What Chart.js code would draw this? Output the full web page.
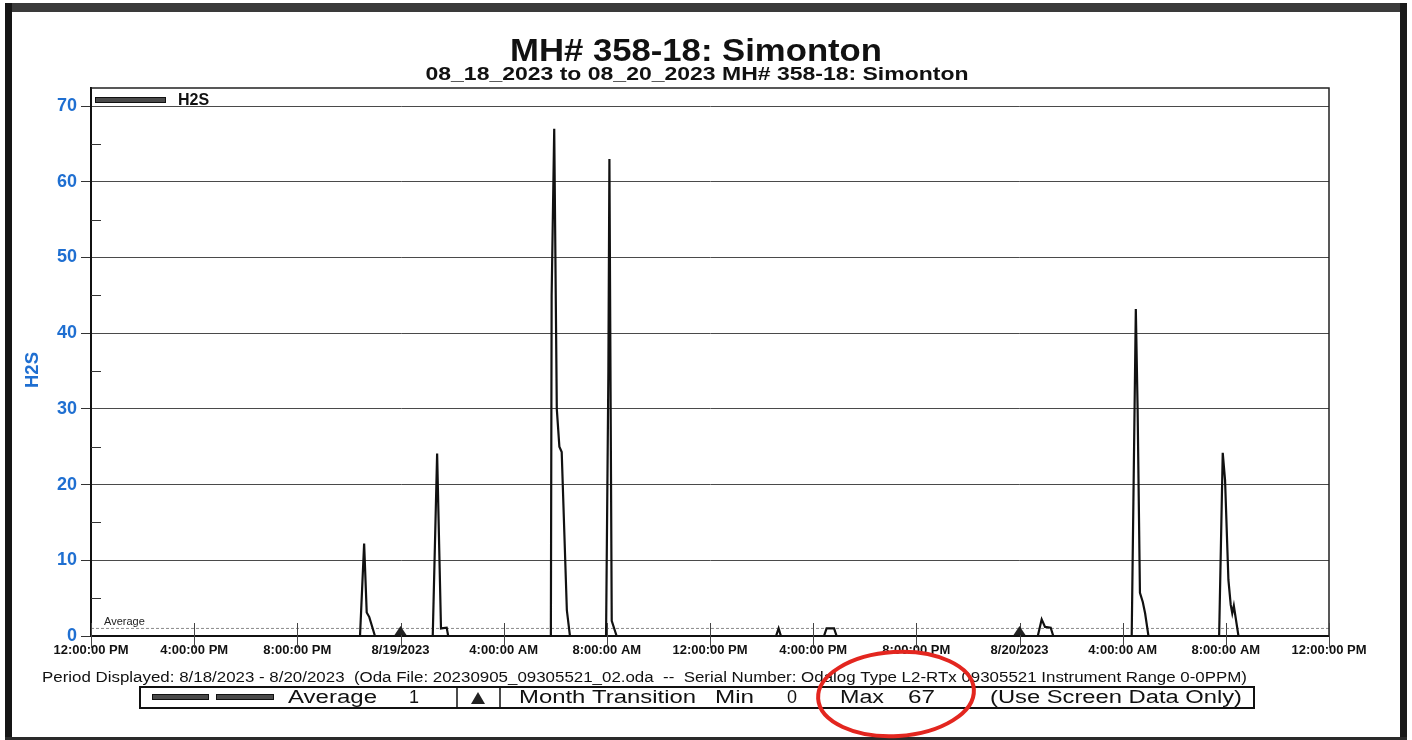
<!DOCTYPE html>
<html><head><meta charset="utf-8">
<script src="https://cdn.jsdelivr.net/npm/chart.js@4.4.1/dist/chart.umd.min.js"></script>
<style>html,body{margin:0;padding:0;background:#fff;overflow:hidden}canvas{display:block}</style>
</head><body>
<canvas id="c" width="1412" height="740"></canvas>
<script>
// ---------- data ----------
const TITLE = 'MH# 358-18: Simonton';
const SUBTITLE = '08_18_2023 to 08_20_2023 MH# 358-18: Simonton';
const SERIES_NAME = 'H2S';
const Y_TITLE = 'H2S';
// hours since 12:00 PM 8/18/2023
const TIME_HOURS = [0,
  10.43,10.59,10.69,10.79,11.01,
  13.25,13.42,13.57,13.79,13.85,
  17.83,17.86,17.96,18.06,18.16,18.25,18.45,18.57,
  19.97,20.06,20.10,20.19,20.38,
  26.56,26.66,26.75,
  28.42,28.52,28.81,28.91,
  36.71,36.86,36.99,37.21,37.31,
  40.35,40.51,40.58,40.67,40.78,40.87,41.00,
  43.74,43.88,43.97,44.10,44.19,44.25,44.31,44.49,
  48];
const H2S_PPM = [0,
  0,12.2,3.1,2.5,0,
  0,24.1,1.0,1.1,0,
  0,45,67,30,25,24.3,3.4,0,
  0,35,63,2,0,
  0,1.0,0,
  0,1.0,1.0,0,
  0,2.2,1.2,1.1,0,
  0,43.2,29.9,5.7,4.5,3.0,0,
  0,24.2,20.6,7.4,4.1,3.0,4.0,0,
  0];
const X_TICK_HOURS = [0,4,8,12,16,20,24,28,32,36,40,44,48];
const X_TICK_LABELS = ['12:00:00 PM','4:00:00 PM','8:00:00 PM','8/19/2023','4:00:00 AM','8:00:00 AM',
  '12:00:00 PM','4:00:00 PM','8:00:00 PM','8/20/2023','4:00:00 AM','8:00:00 AM','12:00:00 PM'];
const Y_TICKS = [0,5,10,15,20,25,30,35,40,45,50,55,60,65,70];
const MONTH_TRANSITIONS = [12, 36];
const AVERAGE = 1;
const MIN_VALUE = 0;
const MAX_VALUE = 67;
const FOOTER = 'Period Displayed: 8/18/2023 - 8/20/2023  (Oda File: 20230905_09305521_02.oda  --  Serial Number: Odalog Type L2-RTx 09305521 Instrument Range 0-0PPM)';

// ---------- drawing ----------
const FONT = "'Liberation Sans', Arial, Helvetica, sans-serif";
const BLUE = '#1f6fd1';

function fitText(ctx, text, x, y, font, width, align) {
  ctx.save();
  ctx.font = font;
  const w = ctx.measureText(text).width;
  const sx = width ? width / w : 1;
  ctx.translate(x, y);
  ctx.scale(sx, 1);
  ctx.textAlign = align || 'left';
  ctx.textBaseline = 'middle';
  ctx.fillText(text, 0, 0);
  ctx.restore();
}

const decor = {
  id: 'decor',
  beforeDraw(chart) {
    const ctx = chart.ctx;
    ctx.save();
    ctx.fillStyle = '#fff';
    ctx.fillRect(0, 0, chart.width, chart.height);
    // scanned page frame
    ctx.fillStyle = '#3a3a3a'; ctx.fillRect(5, 3, 1402, 9);
    ctx.fillStyle = '#151515'; ctx.fillRect(5, 3, 7, 737);
    ctx.fillStyle = '#1a1a1a'; ctx.fillRect(1400, 3, 7, 737);
    ctx.fillStyle = '#2a2a2a'; ctx.fillRect(5, 737, 1402, 3);
    ctx.restore();
  },
  afterDraw(chart) {
    const ctx = chart.ctx;
    const xs = chart.scales.x, ys = chart.scales.y;
    const a = chart.chartArea;
    ctx.save();
    // plot frame (top + right)
    ctx.strokeStyle = '#222'; ctx.lineWidth = 1.5;
    ctx.beginPath();
    ctx.moveTo(a.left, a.top); ctx.lineTo(a.right, a.top); ctx.lineTo(a.right, a.bottom);
    ctx.stroke();
    // minor y ticks inside
    ctx.strokeStyle = '#333'; ctx.lineWidth = 1;
    Y_TICKS.forEach(v => {
      if (v % 10 !== 0) {
        const y = Math.round(ys.getPixelForValue(v)) + 0.5;
        ctx.beginPath(); ctx.moveTo(a.left, y); ctx.lineTo(a.left + 10, y); ctx.stroke();
      }
    });
    // x tick marks
    ctx.strokeStyle = '#444';
    X_TICK_HOURS.forEach(h => {
      const x = Math.round(xs.getPixelForValue(h)) + 0.5;
      ctx.beginPath(); ctx.moveTo(x, a.bottom - 13); ctx.lineTo(x, a.bottom + 12); ctx.stroke();
    });
    // month transition markers
    ctx.fillStyle = '#222';
    MONTH_TRANSITIONS.forEach(h => {
      const x = xs.getPixelForValue(h), y = ys.getPixelForValue(0) - 1;
      ctx.beginPath(); ctx.moveTo(x - 6, y); ctx.lineTo(x + 6, y); ctx.lineTo(x, y - 9); ctx.closePath(); ctx.fill();
    });
    // average label
    ctx.fillStyle = '#222';
    ctx.font = '11px ' + FONT; ctx.textAlign = 'left'; ctx.textBaseline = 'alphabetic';
    ctx.fillText('Average', a.left + 13, ys.getPixelForValue(AVERAGE) - 3);
    // top legend
    ctx.fillStyle = '#4a4a4a'; ctx.strokeStyle = '#111'; ctx.lineWidth = 1;
    ctx.fillRect(95, 98, 71, 5); ctx.strokeRect(95.5, 97.5, 70, 5);
    ctx.fillStyle = '#111';
    fitText(ctx, SERIES_NAME, 178, 101, 'bold 16px ' + FONT, 0, 'left');
    // titles
    fitText(ctx, TITLE, 696, 52, 'bold 32px ' + FONT, 372, 'center');
    fitText(ctx, SUBTITLE, 697, 75, 'bold 18px ' + FONT, 543, 'center');
    // y title
    ctx.save();
    ctx.translate(33, 370); ctx.rotate(-Math.PI / 2);
    ctx.fillStyle = BLUE;
    fitText(ctx, Y_TITLE, 0, 0, 'bold 18px ' + FONT, 36, 'center');
    ctx.restore();
    // footer
    ctx.fillStyle = '#111';
    fitText(ctx, FOOTER, 42, 678, '14px ' + FONT, 1205, 'left');
    // bottom legend box
    ctx.strokeStyle = '#111'; ctx.lineWidth = 2;
    ctx.strokeRect(140, 687, 1114, 21);
    ctx.lineWidth = 1.5;
    ctx.beginPath(); ctx.moveTo(457, 687); ctx.lineTo(457, 708); ctx.moveTo(500, 687); ctx.lineTo(500, 708); ctx.stroke();
    ctx.fillStyle = '#4a4a4a'; ctx.strokeStyle = '#111'; ctx.lineWidth = 1;
    ctx.fillRect(152, 695, 57, 5); ctx.strokeRect(152.5, 694.5, 56, 5);
    ctx.fillRect(216, 695, 58, 5); ctx.strokeRect(216.5, 694.5, 57, 5);
    ctx.fillStyle = '#222';
    ctx.beginPath(); ctx.moveTo(471, 704); ctx.lineTo(485, 704); ctx.lineTo(478, 692); ctx.closePath(); ctx.fill();
    ctx.fillStyle = '#111';
    const lf = '18px ' + FONT;
    fitText(ctx, 'Average', 288, 698, lf, 89, 'left');
    fitText(ctx, String(AVERAGE), 414, 698, lf, 0, 'center');
    fitText(ctx, 'Month Transition', 519, 698, lf, 177, 'left');
    fitText(ctx, 'Min', 715, 698, lf, 39, 'left');
    fitText(ctx, String(MIN_VALUE), 792, 698, lf, 0, 'center');
    fitText(ctx, 'Max', 840, 698, lf, 44, 'left');
    fitText(ctx, String(MAX_VALUE), 908, 698, lf, 27, 'left');
    fitText(ctx, '(Use Screen Data Only)', 990, 698, lf, 252, 'left');
    // red hand-drawn ellipse
    ctx.strokeStyle = '#e3261f'; ctx.lineWidth = 4;
    ctx.beginPath(); ctx.ellipse(896, 694, 78, 42, -0.06, 0, Math.PI * 2); ctx.stroke();
    ctx.restore();
  }
};

const points = TIME_HOURS.map((t, i) => ({ x: t, y: H2S_PPM[i] }));
const xEnd = X_TICK_HOURS[X_TICK_HOURS.length - 1];

new Chart(document.getElementById('c'), {
  type: 'line',
  data: {
    datasets: [
      { label: SERIES_NAME, data: points, borderColor: '#111', borderWidth: 2.2, pointRadius: 0, tension: 0, order: 1 },
      { label: 'Average', data: [{ x: 0, y: AVERAGE }, { x: xEnd, y: AVERAGE }], borderColor: '#8a8a8a',
        borderWidth: 1, borderDash: [3, 2], pointRadius: 0, order: 2 }
    ]
  },
  options: {
    responsive: false, devicePixelRatio: 1, animation: false,
    layout: { padding: { left: 13, right: 83, top: 88, bottom: 0 } },
    plugins: { legend: { display: false }, title: { display: false }, tooltip: { enabled: false } },
    scales: {
      x: {
        type: 'linear', min: 0, max: xEnd,
        afterBuildTicks: s => { s.ticks = X_TICK_HOURS.map(v => ({ value: v })); },
        afterFit: s => { s.height = 104; },
        grid: { display: true, drawOnChartArea: false, drawTicks: false, color: 'rgba(0,0,0,0)' },
        border: { display: true, color: '#111', width: 2 },
        ticks: { autoSkip: false, maxRotation: 0, minRotation: 0, padding: 7, color: '#111',
          font: { family: FONT, size: 13, weight: 'bold' },
          callback: (v, i) => X_TICK_LABELS[i] }
      },
      y: {
        min: 0, max: 72.38,
        afterBuildTicks: s => { s.ticks = Y_TICKS.map(v => ({ value: v })); },
        afterFit: s => { s.width = 78; },
        grid: {
          lineWidth: 1, tickLength: 10,
          color: c => (c.tick && c.tick.value % 10 === 0 && c.tick.value > 0) ? '#4a4a4a' : 'rgba(0,0,0,0)',
          tickColor: c => (c.tick && c.tick.value % 10 === 0) ? '#333' : 'rgba(0,0,0,0)'
        },
        border: { display: true, color: '#111', width: 2 },
        ticks: { color: BLUE, padding: 4, font: { family: FONT, size: 18, weight: 'bold' },
          callback: v => (v % 10 === 0 ? String(v) : '') }
      }
    }
  },
  plugins: [decor]
});
</script>
</body></html>
